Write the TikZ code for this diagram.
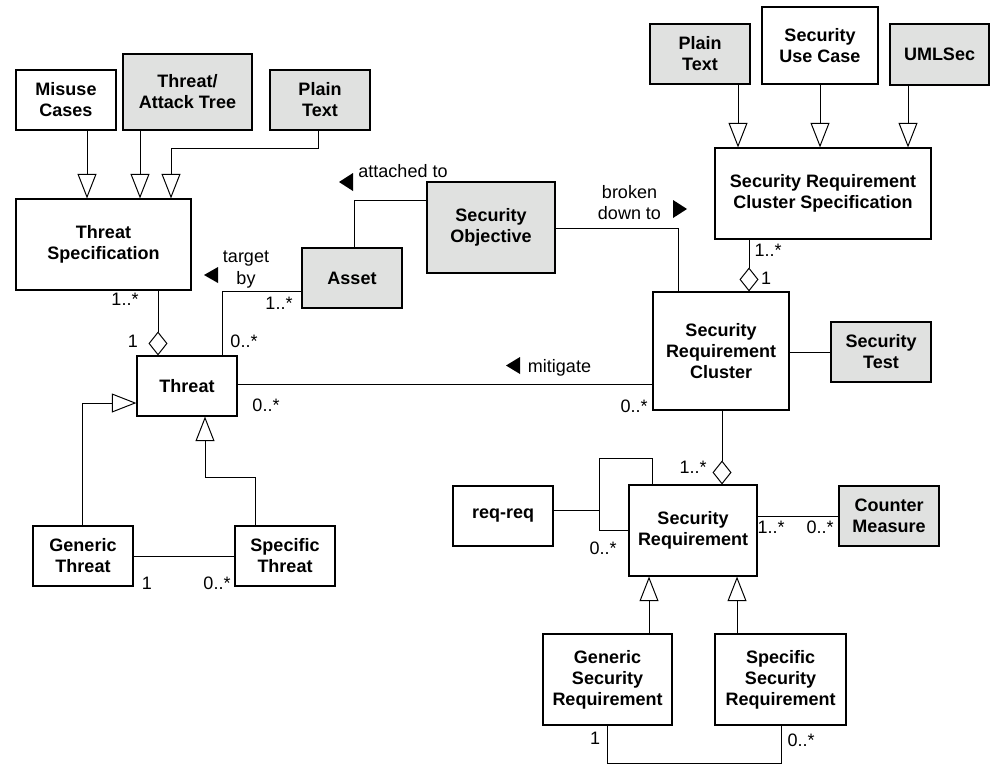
\documentclass[tikz,border=0pt]{standalone}
\usepackage{fontspec}
\setmainfont{Liberation Sans}
\usepackage{tikz}
\usetikzlibrary{arrows.meta}

\definecolor{classgray}{RGB}{224,225,224}

\tikzset{
    cls/.style={draw, line width=0.8pt, align=center, inner sep=0pt,
                font=\fontsize{12.8}{15}\selectfont\bfseries},
    clsgray/.style={cls, fill=classgray},
    smallbox/.style={minimum width=25mm, minimum height=15mm},
    lbl/.style={inner sep=0pt, align=center, font=\fontsize{12.8}{15}\selectfont},
    gen/.style={-{Triangle[open, length=17.5pt, width=13.5pt]}},
    agg/.style={-{Diamond[open, length=17pt, width=13.5pt]}},
}

\begin{document}
\begin{tikzpicture}[x=0.025cm, y=-0.025cm, line width=0.7pt]
    \useasboundingbox (0,0) rectangle (990,764);

    % threat side
    \node[cls, smallbox] (misuse) at (66,100) {Misuse\\Cases};
    \node[clsgray, minimum width=32.25mm, minimum height=19mm] (attacktree) at (187.5,92) {Threat/\\Attack Tree};
    \node[clsgray, smallbox] (plainL) at (320,100) {Plain\\Text};
    \node[cls, minimum width=43.75mm, minimum height=22.75mm] (threatspec) at (103.5,244.5) {Threat\\Specification};
    \node[cls, smallbox] (threat) at (187,386) {Threat};
    \node[cls, smallbox] (gthreat) at (83,556) {Generic\\Threat};
    \node[cls, smallbox] (sthreat) at (285,556) {Specific\\Threat};

    % asset and objective
    \node[clsgray, smallbox] (asset) at (352,278) {Asset};
    \node[clsgray, minimum width=32mm, minimum height=22.75mm] (secobj) at (491,227.5) {Security\\Objective};

    % requirement side
    \node[clsgray, smallbox] (plainR) at (700,54) {Plain\\Text};
    \node[cls, minimum width=29mm, minimum height=19.25mm] (usecase) at (820,45.5) {Security\\Use Case};
    \node[clsgray, minimum width=24.75mm, minimum height=15.25mm] (umlsec) at (939.5,54.5) {UMLSec};
    \node[cls, minimum width=54mm, minimum height=22.75mm] (srcs) at (823,193.5) {Security Requirement\\Cluster Specification};
    \node[cls, minimum width=34mm, minimum height=29.5mm] (src) at (721,351) {Security\\Requirement\\Cluster};
    \node[clsgray, smallbox] (sectest) at (881,352) {Security\\Test};
    \node[cls, minimum width=32mm, minimum height=22.75mm] (sr) at (693,530.5) {Security\\Requirement};
    \node[cls, smallbox] (reqreq) at (503,516) {req-req};
    \node[clsgray, smallbox] (cm) at (889,516) {Counter\\Measure};
    \node[cls, minimum width=32.25mm, minimum height=22.75mm] (gsr) at (607.5,679.5) {Generic\\Security\\Requirement};
    \node[cls, minimum width=32.75mm, minimum height=22.75mm] (ssr) at (780.5,679.5) {Specific\\Security\\Requirement};

    % specification notations
    \draw[gen] (87,0 |- misuse.south) -- (87,0 |- threatspec.north);
    \draw[gen] (140,0 |- attacktree.south) -- (140,0 |- threatspec.north);
    \draw[gen] (318,0 |- plainL.south) -- (318,148) -| (171,0 |- threatspec.north);
    \draw[gen] (738,0 |- plainR.south) -- (738,0 |- srcs.north);
    \draw[gen] (820,0 |- usecase.south) -- (820,0 |- srcs.north);
    \draw[gen] (908,0 |- umlsec.south) -- (908,0 |- srcs.north);

    % aggregations
    \draw[agg] (158,0 |- threatspec.south) -- (158,0 |- threat.north);
    \draw[agg] (749,0 |- srcs.south) -- (749,0 |- src.north);
    \draw[agg] (722,0 |- src.south) -- (722,0 |- sr.north);

    % threat hierarchy
    \draw[gen] (82,0 |- gthreat.north) |- (threat.west |- 0,403);
    \draw[gen] (255,0 |- sthreat.north) -- (255,477) -| (205,0 |- threat.south);
    \draw (gthreat) -- (sthreat);

    % associations
    \draw (asset.west |- 0,291) -| (222,0 |- threat.north);
    \draw (354,0 |- asset.north) |- (secobj.west |- 0,200);
    \draw (secobj.east |- 0,228) -| (678,0 |- src.north);
    \draw (threat.east |- 0,384) -- (src.west |- 0,384);
    \draw (src.east |- 0,352) -- (sectest.west |- 0,352);
    \draw (sr.east |- 0,516) -- (cm.west |- 0,516);

    % req-req loop
    \coordinate (loop) at (599,510);
    \draw (652,0 |- sr.north) -- (652,458) -| (599,530) -- (sr.west |- 0,530);
    \draw (reqreq.east |- loop) -- (loop);

    % requirement hierarchy
    \draw[gen] (649,0 |- gsr.north) -- (649,0 |- sr.south);
    \draw[gen] (737,0 |- ssr.north) -- (737,0 |- sr.south);
    \draw (607,0 |- gsr.south) -- (607,763) -| (781,0 |- ssr.south);

    % association names
    \node[lbl] (attached) at (403,171.5) {attached to};
    \fill (353,173) -- (339,182) -- (353,191) -- cycle;
    \node[lbl] (targetby) at (246,269.5) {target\\by};
    \fill (218,267) -- (204,275) -- (218,283) -- cycle;
    \node[lbl] (broken) at (629.5,202.5) {broken\\down to};
    \fill (673,200) -- (687,209) -- (673,218) -- cycle;
    \node[lbl] (mitigate) at (559.5,368) {mitigate};
    \fill (520,357) -- (506,365.5) -- (520,374) -- cycle;

    % multiplicities
    \node[lbl] (m1) at (125,299) {1..*};
    \node[lbl] (m2) at (133,341) {1};
    \node[lbl] (m3) at (244,341) {0..*};
    \node[lbl] (m4) at (279,303) {1..*};
    \node[lbl] (m5) at (266,405) {0..*};
    \node[lbl] (m6) at (634,406) {0..*};
    \node[lbl] (m7) at (768,250) {1..*};
    \node[lbl] (m8) at (766,278) {1};
    \node[lbl] (m9) at (693,467) {1..*};
    \node[lbl] (m10) at (603,548) {0..*};
    \node[lbl] (m11) at (771,527) {1..*};
    \node[lbl] (m12) at (820,527) {0..*};
    \node[lbl] (m13) at (595,738) {1};
    \node[lbl] (m14) at (801,740) {0..*};
    \node[lbl] (m15) at (147,583) {1};
    \node[lbl] (m16) at (217,583) {0..*};
\end{tikzpicture}
\end{document}
